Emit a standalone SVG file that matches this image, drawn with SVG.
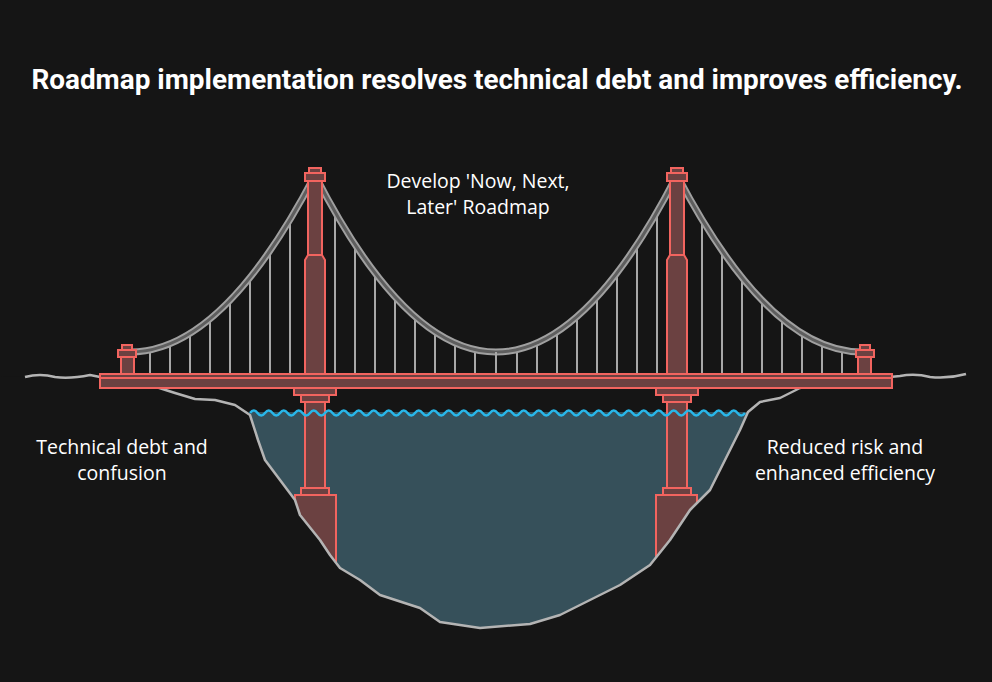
<svg xmlns="http://www.w3.org/2000/svg" xmlns:xlink="http://www.w3.org/1999/xlink" width="992" height="682" viewBox="0 0 992 682">
<style>
.t{fill:#6b4141;stroke:#f2645f;stroke-width:2}
.h{stroke:#a8a8a8;stroke-width:2;fill:none}
.c1{stroke:#a0a0a0;stroke-width:7;fill:none}
.c2{stroke:#5e5e5e;stroke-width:3;fill:none}
.lbl{font-family:"Open Sans","Liberation Sans",sans-serif;font-size:19.5px;fill:#ffffff;text-anchor:middle}
</style>
<defs>
<g id="lowerL">
<rect class="t" x="305" y="400" width="20" height="90"/>
<rect class="t" x="301" y="488" width="28" height="8"/>
<rect class="t" x="295" y="495" width="41" height="70"/>
</g>
<g id="cableL">
<g class="h">
<line x1="150" y1="350" x2="150" y2="374"/><line x1="170" y1="343.7" x2="170" y2="374"/><line x1="190" y1="333.4" x2="190" y2="374"/><line x1="210" y1="318.9" x2="210" y2="374"/><line x1="230" y1="300.3" x2="230" y2="374"/><line x1="250" y1="277.5" x2="250" y2="374"/><line x1="270" y1="250.6" x2="270" y2="374"/><line x1="290" y1="219.6" x2="290" y2="374"/>
<line x1="335" y1="211.9" x2="335" y2="374"/><line x1="355" y1="244.6" x2="355" y2="374"/><line x1="375" y1="272.9" x2="375" y2="374"/><line x1="395" y1="296.9" x2="395" y2="374"/><line x1="415" y1="316.6" x2="415" y2="374"/><line x1="435" y1="331.9" x2="435" y2="374"/><line x1="455" y1="342.9" x2="455" y2="374"/><line x1="475" y1="349.6" x2="475" y2="374"/>
</g>
<path class="c1" d="M130,352 Q222.5,352 315,175 Q405.5,352 496,352"/>
<path class="c2" d="M130,352 Q222.5,352 315,175 Q405.5,352 496,352"/>
</g>
<g id="towerL">
<rect class="t" x="121" y="355" width="13" height="20"/>
<rect class="t" x="118" y="350" width="18" height="7"/>
<rect class="t" x="122" y="345" width="10" height="5"/>
<rect class="t" x="308" y="180" width="14" height="76"/>
<path class="t" d="M305,376 V260 L308,255 H322 L325,260 V376 Z"/>
<rect class="t" x="305" y="173" width="20" height="8"/>
<rect class="t" x="309" y="168" width="12" height="5"/>
<rect class="t" x="294" y="388" width="42" height="7"/>
<rect class="t" x="301" y="395" width="28" height="7"/>
</g>
</defs>
<rect width="992" height="682" fill="#151515"/>
<text x="497" y="89" font-family="Roboto,'Liberation Sans',sans-serif" font-weight="bold" font-size="27.9" fill="#ffffff" text-anchor="middle">Roadmap implementation resolves technical debt and improves efficiency.</text>

<path id="water" d="M250,412 L748,412 L740,430 L730,450 L720,470 L710,490 L690,510 L670,540 L650,565 L620,585 L590,600 L560,615 L530,624 L480,628 L440,622 L420,608 L380,595 L360,580 L340,568 L330,555 L320,540 L300,515 L295,500 L280,480 L265,460 L258,440 Z" fill="#36505a"/>
<g id="lower-towers">
<use xlink:href="#lowerL"/>
<use xlink:href="#lowerL" transform="matrix(-1 0 0 1 992 0)"/>
</g>
<path id="ground" d="M0,682 L0,376 L25,377 Q40,373 55,377 Q70,379 90,375 L115,380 L150,385 L175,393 L195,399 L215,400 L235,405 L250,415 L258,440 L265,460 L280,480 L295,500 L300,515 L320,540 L330,555 L340,568 L360,580 L380,595 L420,608 L440,622 L480,628 L530,624 L560,615 L590,600 L620,585 L650,565 L670,540 L690,510 L710,490 L720,470 L730,450 L740,430 L748,412 L760,402 L780,398 L800,388 L820,382 L850,380 L880,378 L900,376 Q915,373 930,377 Q948,379 966,374 L992,374 L992,682 Z" fill="#151515"/>
<path d="M25,377 Q40,373 55,377 Q70,379 90,375 L115,380 L150,385 L175,393 L195,399 L215,400 L235,405 L250,415 L258,440 L265,460 L280,480 L295,500 L300,515 L320,540 L330,555 L340,568 L360,580 L380,595 L420,608 L440,622 L480,628 L530,624 L560,615 L590,600 L620,585 L650,565 L670,540 L690,510 L710,490 L720,470 L730,450 L740,430 L748,412 L760,402 L780,398 L800,388 L820,382 L850,380 L880,378 L900,376 Q915,373 930,377 Q948,379 966,374" fill="none" stroke="#b4b4b4" stroke-width="2.5" stroke-linejoin="round"/>
<path id="waves" d="M250,413 q3.75,-5 7.5,0 q3.75,5 7.5,0 q3.75,-5 7.5,0 q3.75,5 7.5,0 q3.75,-5 7.5,0 q3.75,5 7.5,0 q3.75,-5 7.5,0 q3.75,5 7.5,0 q3.75,-5 7.5,0 q3.75,5 7.5,0 q3.75,-5 7.5,0 q3.75,5 7.5,0 q3.75,-5 7.5,0 q3.75,5 7.5,0 q3.75,-5 7.5,0 q3.75,5 7.5,0 q3.75,-5 7.5,0 q3.75,5 7.5,0 q3.75,-5 7.5,0 q3.75,5 7.5,0 q3.75,-5 7.5,0 q3.75,5 7.5,0 q3.75,-5 7.5,0 q3.75,5 7.5,0 q3.75,-5 7.5,0 q3.75,5 7.5,0 q3.75,-5 7.5,0 q3.75,5 7.5,0 q3.75,-5 7.5,0 q3.75,5 7.5,0 q3.75,-5 7.5,0 q3.75,5 7.5,0 q3.75,-5 7.5,0 q3.75,5 7.5,0 q3.75,-5 7.5,0 q3.75,5 7.5,0 q3.75,-5 7.5,0 q3.75,5 7.5,0 q3.75,-5 7.5,0 q3.75,5 7.5,0 q3.75,-5 7.5,0 q3.75,5 7.5,0 q3.75,-5 7.5,0 q3.75,5 7.5,0 q3.75,-5 7.5,0 q3.75,5 7.5,0 q3.75,-5 7.5,0 q3.75,5 7.5,0 q3.75,-5 7.5,0 q3.75,5 7.5,0 q3.75,-5 7.5,0 q3.75,5 7.5,0 q3.75,-5 7.5,0 q3.75,5 7.5,0 q3.75,-5 7.5,0 q3.75,5 7.5,0 q3.75,-5 7.5,0 q3.75,5 7.5,0 q3.75,-5 7.5,0 q3.75,5 7.5,0 q3.75,-5 7.5,0 q3.75,5 7.5,0 q3.75,-5 7.5,0 q3.75,5 7.5,0 q3.75,-5 7.5,0 q3.75,5 7.5,0" fill="none" stroke="#29b6e8" stroke-width="2.5"/>
<g id="cables">
<use xlink:href="#cableL"/>
<use xlink:href="#cableL" transform="matrix(-1 0 0 1 992 0)"/>
<line class="h" x1="496" y1="352" x2="496" y2="374"/>
</g>
<g id="towers">
<use xlink:href="#towerL"/>
<use xlink:href="#towerL" transform="matrix(-1 0 0 1 992 0)"/>
</g>
<g id="deck">
<rect class="t" x="100" y="374" width="792" height="4"/>
<rect class="t" x="100" y="378" width="792" height="10"/>
</g>
<text class="lbl" x="478" y="188">Develop 'Now, Next,</text>
<text class="lbl" x="478" y="214">Later' Roadmap</text>
<text class="lbl" x="122" y="454">Technical debt and</text>
<text class="lbl" x="122" y="480">confusion</text>
<text class="lbl" x="845" y="454">Reduced risk and</text>
<text class="lbl" x="845" y="480">enhanced efficiency</text>
</svg>
